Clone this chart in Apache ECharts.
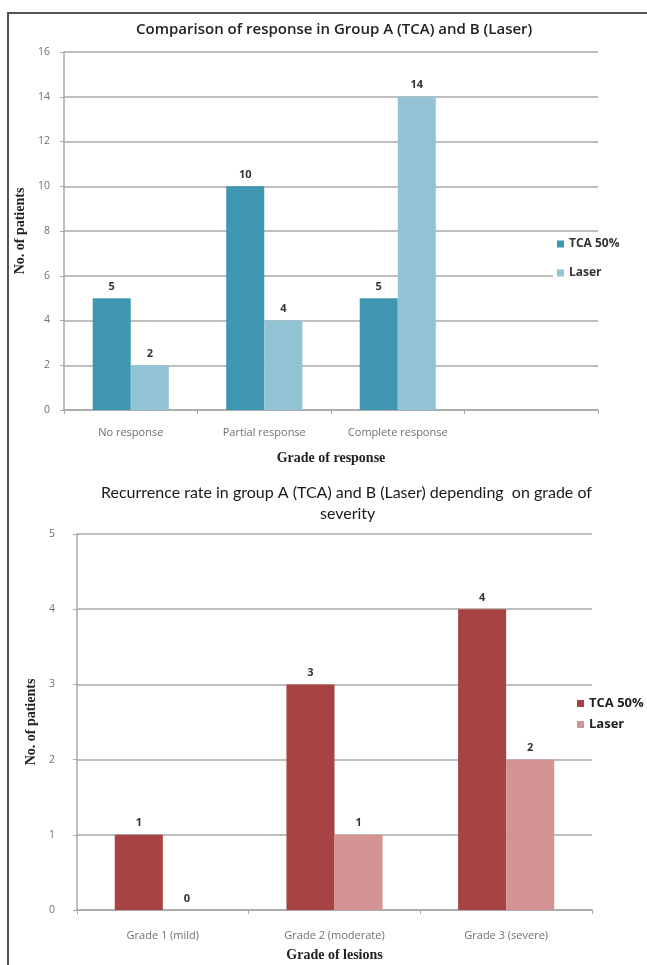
<!DOCTYPE html>
<html>
<head>
<meta charset="utf-8">
<script src="https://cdn.jsdelivr.net/npm/echarts@6/dist/echarts.min.js"></script>
<style>
  html, body { margin: 0; padding: 0; background: #fff; }
  #frame { position: absolute; left: 7px; top: 12px; width: 700px; height: 1000px;
           border-left: 2px solid #555; border-top: 2px solid #555; box-sizing: border-box; }
  #chart { position: absolute; left: 0; top: 0; width: 647px; height: 965px; }
</style>
</head>
<body>
<div id="frame"></div>
<div id="chart"></div>
<script>
// Panel 1: response by treatment group
const responseCategories = ['No response', 'Partial response', 'Complete response', ''];
const responseTCA = [5, 10, 5, null];
const responseLaser = [2, 4, 14, null];
const responseTicks = [0, 2, 4, 6, 8, 10, 12, 14, 16];

// Panel 2: recurrence by grade of severity
const gradeCategories = ['Grade 1 (mild)', 'Grade 2 (moderate)', 'Grade 3 (severe)'];
const recurrenceTCA = [1, 3, 4];
const recurrenceLaser = [0, 1, 2];
const recurrenceTicks = [0, 1, 2, 3, 4, 5];

const seriesNames = ['TCA 50%', 'Laser'];

const gridLine = { lineStyle: { color: '#a8a8a8', width: 1.5 } };
const axisLine = { show: true, lineStyle: { color: '#a8a8a8', width: 1.5 } };
const tickLabel = { color: '#6f6f6f', fontSize: 10.5, fontFamily: 'Open Sans' };
const catLabel = { color: '#6f6f6f', fontSize: 11, fontFamily: 'Open Sans' };
const axisTitle = { color: '#222', fontSize: 14, fontWeight: 'bold', fontFamily: 'Liberation Serif' };
const valueLabel = { show: true, position: 'top', distance: 6, color: '#333', fontSize: 11,
                     fontWeight: 'bold', fontFamily: 'Open Sans' };
const lowerTitleStyle = { color: '#1a1a1a', fontSize: 16, fontWeight: 'normal', fontFamily: 'Lato' };

const chart = echarts.init(document.getElementById('chart'), null, { renderer: 'canvas' });

chart.setOption({
  animation: false,
  backgroundColor: 'transparent',
  title: [
    { text: 'Comparison of response in Group A (TCA) and B (Laser)', left: 131, top: 17,
      textStyle: { color: '#222', fontSize: 15, fontWeight: 600, fontFamily: 'Open Sans' } },
    { text: 'Recurrence rate in group A (TCA) and B (Laser) depending  on grade of',
      left: 96, top: 480, textStyle: lowerTitleStyle },
    { text: 'severity', left: 315, top: 501, textStyle: lowerTitleStyle }
  ],
  legend: [
    { data: seriesNames, orient: 'vertical', left: 553, top: 236, itemWidth: 7, itemHeight: 7,
      icon: 'rect', itemGap: 17, backgroundColor: '#fff', padding: [2, 4, 2, 4],
      textStyle: { color: '#333', fontSize: 12, fontWeight: 'bold', fontFamily: 'Open Sans' },
      itemStyle: { borderWidth: 0 } },
    { data: seriesNames.map(n => ({ name: n + ' ' })), orient: 'vertical', left: 573, top: 695,
      itemWidth: 7, itemHeight: 7, icon: 'rect', itemGap: 8, backgroundColor: '#fff',
      padding: [2, 4, 2, 4],
      textStyle: { color: '#222', fontSize: 13, fontWeight: 'bold', fontFamily: 'Open Sans' },
      itemStyle: { borderWidth: 0 } }
  ],
  grid: [
    { left: 64, right: 49, top: 52, height: 358 },
    { left: 77, right: 55, top: 534, height: 376 }
  ],
  xAxis: [
    { type: 'category', gridIndex: 0, data: responseCategories, boundaryGap: true,
      axisLine: axisLine, axisTick: { show: true, length: 4, lineStyle: { color: '#a8a8a8' } },
      axisLabel: Object.assign({ margin: 17, interval: 0 }, catLabel),
      name: 'Grade of response', nameLocation: 'middle', nameGap: 41, nameTextStyle: axisTitle },
    { type: 'category', gridIndex: 1, data: gradeCategories, boundaryGap: true,
      axisLine: axisLine, axisTick: { show: true, length: 4, lineStyle: { color: '#a8a8a8' } },
      axisLabel: Object.assign({ margin: 20, interval: 0 }, catLabel),
      name: 'Grade of lesions', nameLocation: 'middle', nameGap: 38, nameTextStyle: axisTitle }
  ],
  yAxis: [
    { type: 'value', gridIndex: 0, min: responseTicks[0], max: responseTicks[responseTicks.length - 1],
      interval: responseTicks[1] - responseTicks[0],
      axisLine: axisLine, axisTick: { show: true, length: 4, lineStyle: { color: '#a8a8a8' } },
      splitLine: gridLine, axisLabel: Object.assign({ margin: 14 }, tickLabel),
      name: 'No. of patients', nameLocation: 'middle', nameGap: 30, nameRotate: 90,
      nameTextStyle: axisTitle },
    { type: 'value', gridIndex: 1, min: recurrenceTicks[0], max: recurrenceTicks[recurrenceTicks.length - 1],
      interval: recurrenceTicks[1] - recurrenceTicks[0],
      axisLine: axisLine, axisTick: { show: true, length: 4, lineStyle: { color: '#a8a8a8' } },
      splitLine: gridLine, axisLabel: Object.assign({ margin: 22 }, tickLabel),
      name: 'No. of patients', nameLocation: 'middle', nameGap: 32, nameRotate: 90,
      nameTextStyle: axisTitle }
  ],
  series: [
    { name: seriesNames[0], type: 'bar', xAxisIndex: 0, yAxisIndex: 0, data: responseTCA,
      barGap: '0%', barCategoryGap: '43%', itemStyle: { color: '#3f96b1' }, label: valueLabel },
    { name: seriesNames[1], type: 'bar', xAxisIndex: 0, yAxisIndex: 0, data: responseLaser,
      barGap: '0%', barCategoryGap: '43%', itemStyle: { color: '#92c3d5' }, label: valueLabel },
    { name: seriesNames[0] + ' ', type: 'bar', xAxisIndex: 1, yAxisIndex: 1, data: recurrenceTCA,
      barGap: '0%', barCategoryGap: '44%', itemStyle: { color: '#a84343' }, label: valueLabel },
    { name: seriesNames[1] + ' ', type: 'bar', xAxisIndex: 1, yAxisIndex: 1, data: recurrenceLaser,
      barGap: '0%', barCategoryGap: '44%', itemStyle: { color: '#d49494' }, label: valueLabel }
  ]
});
</script>
</body>
</html>
